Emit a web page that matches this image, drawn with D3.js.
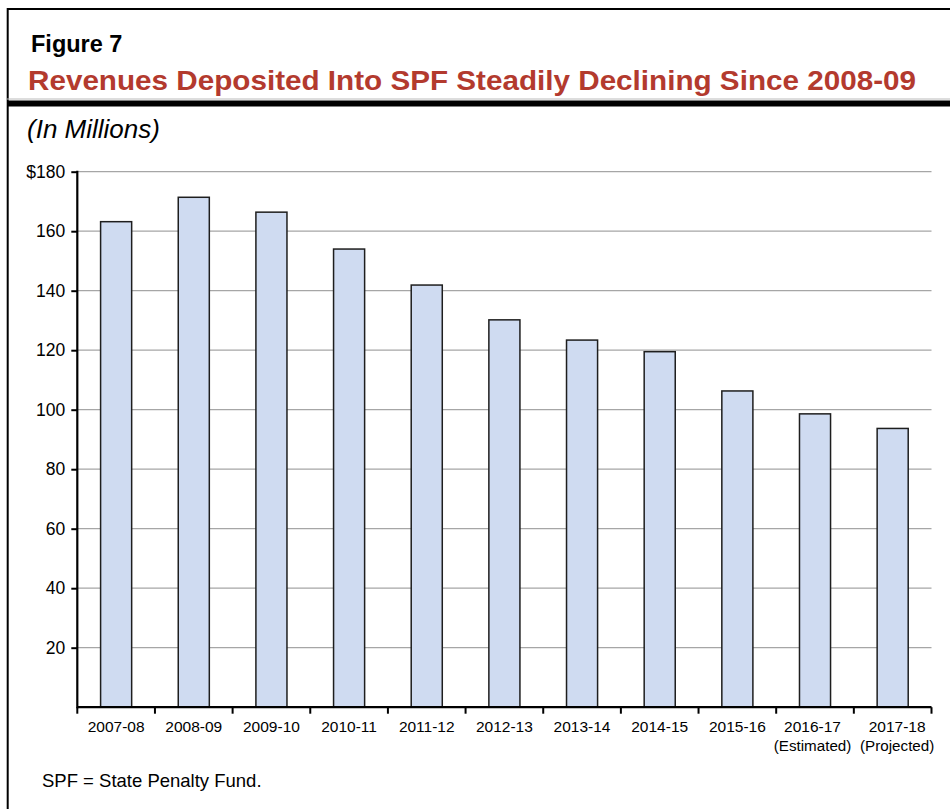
<!DOCTYPE html>
<html>
<head>
<meta charset="utf-8">
<script src="https://cdn.jsdelivr.net/npm/d3@7"></script>
<style>
  html, body { margin: 0; padding: 0; background: #fff; }
  svg { display: block; font-family: "Liberation Sans", Arial, Helvetica, sans-serif; }
</style>
</head>
<body>
<svg id="chart" width="950" height="809"></svg>
<script>
// Fiscal years and SPF deposits (millions of dollars)
const categories = ["2007-08", "2008-09", "2009-10", "2010-11", "2011-12", "2012-13",
                    "2013-14", "2014-15", "2015-16", "2016-17", "2017-18"];
const subLabels = ["", "", "", "", "", "", "", "", "", "(Estimated)", "(Projected)"];
const revenues = [163.2, 171.4, 166.4, 154.0, 141.9, 130.2, 123.4, 119.5, 106.3, 98.6, 93.7];
const yTicks = [20, 40, 60, 80, 100, 120, 140, 160, 180];

const svg = d3.select("#chart");

// Figure frame
svg.append("rect").attr("x", 7.7).attr("y", 9).attr("width", 960).attr("height", 820)
  .attr("fill", "none").attr("stroke", "#000").attr("stroke-width", 2);
svg.append("line").attr("x1", 7).attr("x2", 950).attr("y1", 99).attr("y2", 99)
  .attr("stroke", "#bbb").attr("stroke-width", 1);
svg.append("rect").attr("x", 7).attr("y", 100.5).attr("width", 943).attr("height", 6)
  .attr("fill", "#000");

// Headings
svg.append("text").attr("x", 31).attr("y", 52)
  .attr("font-size", 23.5).attr("font-weight", "bold").attr("fill", "#000")
  .text("Figure 7");
svg.append("text").attr("x", 28).attr("y", 90)
  .attr("font-size", 28).attr("font-weight", "bold").attr("fill", "#b33a2e")
  .attr("textLength", 888).attr("lengthAdjust", "spacingAndGlyphs")
  .text("Revenues Deposited Into SPF Steadily Declining Since 2008-09");
svg.append("text").attr("x", 27).attr("y", 138)
  .attr("font-size", 26).attr("font-style", "italic").attr("fill", "#000")
  .text("(In Millions)");

// Plot area
const plotLeft = 77.3, plotRight = 931.5, plotTop = 171.7, plotBottom = 707.2;
const x = d3.scaleBand().domain(categories).range([plotLeft, plotRight]).paddingInner(0.6).paddingOuter(0.3);
const y = d3.scaleLinear().domain([0, 180]).range([plotBottom, plotTop]);

// Gridlines
svg.append("g").selectAll("line").data(yTicks).join("line")
  .attr("x1", plotLeft).attr("x2", plotRight)
  .attr("y1", d => y(d)).attr("y2", d => y(d))
  .attr("stroke", "#a6a6a6").attr("stroke-width", 1.2);

// Bars
svg.append("g").selectAll("rect").data(revenues).join("rect")
  .attr("x", (d, i) => x(categories[i]))
  .attr("width", x.bandwidth())
  .attr("y", d => y(d))
  .attr("height", d => plotBottom - y(d))
  .attr("fill", "#cfdbf1").attr("stroke", "#1e1e1e").attr("stroke-width", 1.5);

// Y axis
const yAxis = svg.append("g").attr("transform", `translate(${plotLeft},0)`)
  .call(d3.axisLeft(y).tickValues(yTicks).tickSize(6).tickPadding(6)
    .tickFormat(d => d === 180 ? "$180" : d));
yAxis.select(".domain").remove();
yAxis.selectAll(".tick line").attr("stroke", "#000").attr("stroke-width", 2);
yAxis.selectAll(".tick text").attr("font-size", 17.5).attr("fill", "#000")
  .attr("font-family", "Liberation Sans, Arial, sans-serif");
svg.append("line").attr("x1", plotLeft).attr("x2", plotLeft).attr("y1", plotTop - 1).attr("y2", plotBottom + 1)
  .attr("stroke", "#000").attr("stroke-width", 2.2);

// X axis with boundary ticks between categories
const boundaries = d3.range(categories.length + 1)
  .map(i => plotLeft + i * (plotRight - plotLeft) / categories.length);
const xg = svg.append("g");
xg.append("line").attr("x1", plotLeft).attr("x2", plotRight).attr("y1", plotBottom).attr("y2", plotBottom)
  .attr("stroke", "#000").attr("stroke-width", 2.2);
xg.selectAll("line.tk").data(boundaries).join("line").attr("class", "tk")
  .attr("x1", d => d).attr("x2", d => d).attr("y1", plotBottom).attr("y2", plotBottom + 6.5)
  .attr("stroke", "#000").attr("stroke-width", 2);

// The two two-line labels at the right end are nudged apart so they don't touch
const n = categories.length;
const nudge = i => (i === n - 1 ? 4.5 : i === n - 2 ? -2.5 : 0);
xg.selectAll("text.cat").data(categories).join("text").attr("class", "cat")
  .attr("x", (d, i) => x(d) + x.bandwidth() / 2 + nudge(i)).attr("y", 732)
  .attr("text-anchor", "middle").attr("font-size", 15.5).attr("fill", "#000")
  .text(d => d);
xg.selectAll("text.sub").data(subLabels).join("text").attr("class", "sub")
  .attr("x", (d, i) => x(categories[i]) + x.bandwidth() / 2 + nudge(i)).attr("y", 751)
  .attr("text-anchor", "middle").attr("font-size", 15.2).attr("fill", "#000")
  .text(d => d);

// Footnote
svg.append("text").attr("x", 42).attr("y", 787)
  .attr("font-size", 18.5).attr("fill", "#000")
  .text("SPF = State Penalty Fund.");
</script>
</body>
</html>
